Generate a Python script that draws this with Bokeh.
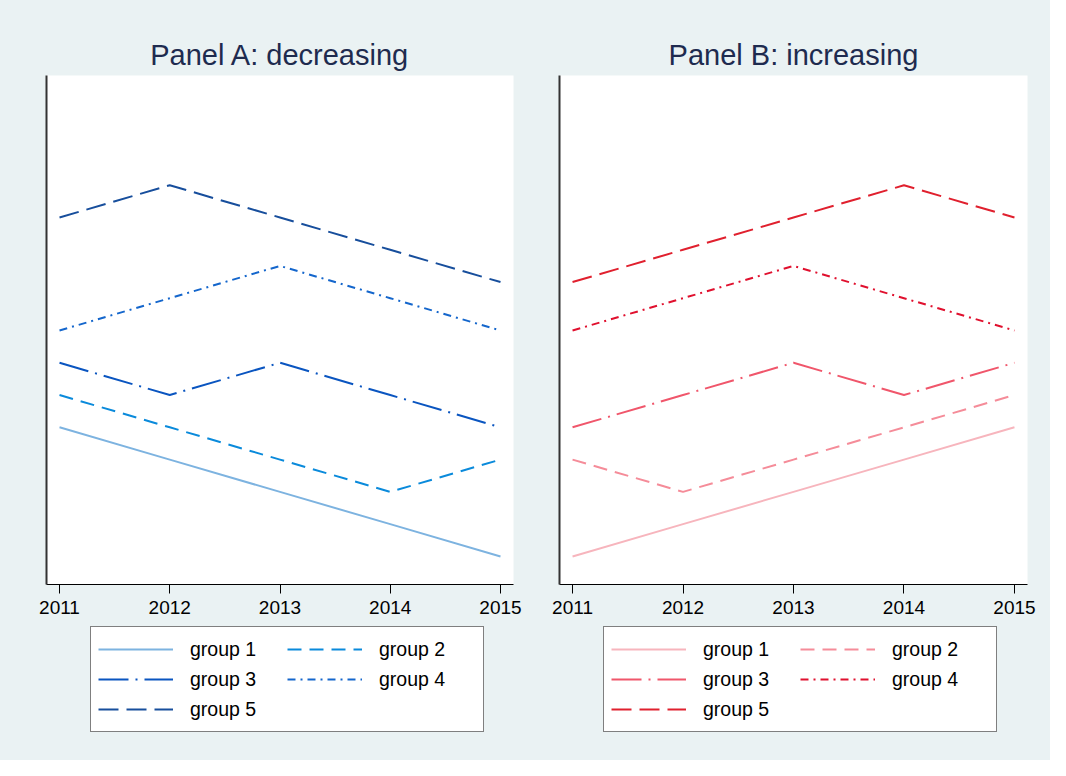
from bokeh.plotting import figure
from bokeh.models import Legend, LegendItem, Range1d, FixedTicker
from bokeh.layouts import row, column
from bokeh.embed import file_html
from bokeh.resources import INLINE

years = [2011, 2012, 2013, 2014, 2015]
group_labels = ["group 1", "group 2", "group 3", "group 4", "group 5"]

dec_g1 = [4, 3, 2, 1, 0]
dec_g2 = [5, 4, 3, 2, 3]
dec_g3 = [6, 5, 6, 5, 4]
dec_g4 = [7, 8, 9, 8, 7]
dec_g5 = [10.5, 11.5, 10.5, 9.5, 8.5]

inc_g1 = [0, 1, 2, 3, 4]
inc_g2 = [3, 2, 3, 4, 5]
inc_g3 = [4, 5, 6, 5, 6]
inc_g4 = [7, 8, 9, 8, 7]
inc_g5 = [8.5, 9.5, 10.5, 11.5, 10.5]

blues = ["#7DB3E0", "#0A8ADB", "#0A55C0", "#1466CC", "#174E9C"]
reds = ["#F7B5BD", "#F58C99", "#F0566B", "#E0102E", "#E0202E"]
dashes = ["solid", "14 8", "30 7 2 7", "8 5 2 5", "20 8"]

BG = "#EAF2F3"
FONT = "Liberation Sans"


def panel(title, series, colors, width, left_border, right_border, leg_x):
    p = figure(width=width, height=622, output_backend="svg", toolbar_location=None,
               x_range=Range1d(2010.882, 2015.118), y_range=Range1d(-0.87, 14.9),
               min_border_left=left_border, min_border_right=right_border,
               min_border_top=75, min_border_bottom=38)
    p.border_fill_color = BG
    p.background_fill_color = "white"
    p.outline_line_color = None
    p.xgrid.visible = False
    p.ygrid.visible = False

    p.title.text = title
    p.title.align = "center"
    p.title.text_font = FONT
    p.title.text_font_size = "29px"
    p.title.text_font_style = "normal"
    p.title.text_color = "#1E2B4F"
    p.title.standoff = 9

    xa = p.xaxis[0]
    xa.ticker = FixedTicker(ticks=years)
    xa.major_label_text_font = FONT
    xa.major_label_text_font_size = "19px"
    xa.major_label_text_color = "black"
    xa.major_tick_in = 0
    xa.major_tick_out = 9
    xa.major_tick_line_color = "black"
    xa.minor_tick_line_color = None
    xa.axis_line_color = "black"
    xa.major_label_standoff = 7

    ya = p.yaxis[0]
    ya.ticker = FixedTicker(ticks=[])
    ya.major_tick_line_color = None
    ya.minor_tick_line_color = None
    ya.axis_line_color = "#333333"
    ya.axis_line_width = 2

    for ys, c, d in zip(series, colors, dashes):
        p.line(years, ys, line_color=c, line_width=2, line_dash=d)

    # key panel below: same series drawn outside its visible range, only the key shows
    lf = figure(width=width, height=138, output_backend="svg", toolbar_location=None,
                title=None, x_range=Range1d(0, 1), y_range=Range1d(0, 1),
                x_axis_type=None, y_axis_type=None,
                min_border_left=0, min_border_right=0,
                min_border_top=0, min_border_bottom=0)
    lf.border_fill_color = BG
    lf.background_fill_color = BG
    lf.outline_line_color = None
    lf.xgrid.visible = False
    lf.ygrid.visible = False
    items = []
    for ys, c, d, lab in zip(series, colors, dashes, group_labels):
        r = lf.line(years, ys, line_color=c, line_width=2, line_dash=d)
        items.append(LegendItem(label=lab, renderers=[r]))
    leg = Legend(items=items, orientation="horizontal", ncols=2, location=(leg_x, 28))
    leg.border_line_color = "black"
    leg.border_line_width = 1
    leg.background_fill_color = "white"
    leg.background_fill_alpha = 1
    leg.label_text_font = FONT
    leg.label_text_font_size = "19.5px"
    leg.label_text_color = "black"
    leg.glyph_width = 75
    leg.glyph_height = 30
    leg.label_standoff = 17
    leg.label_width = 97
    leg.spacing = 0
    leg.padding = 7
    leg.margin = 0
    lf.add_layout(leg, "center")
    return p, lf


pA, lA = panel("Panel A: decreasing", [dec_g1, dec_g2, dec_g3, dec_g4, dec_g5], blues,
               536, 46, 23, 90)
pB, lB = panel("Panel B: increasing", [inc_g1, inc_g2, inc_g3, inc_g4, inc_g5], reds,
               514, 23, 23, 67)

bgstyle = {"background-color": BG}
layout = column(row(pA, pB, styles=bgstyle), row(lA, lB, styles=bgstyle), styles=bgstyle)
open("out.html", "w").write(file_html(layout, INLINE))
